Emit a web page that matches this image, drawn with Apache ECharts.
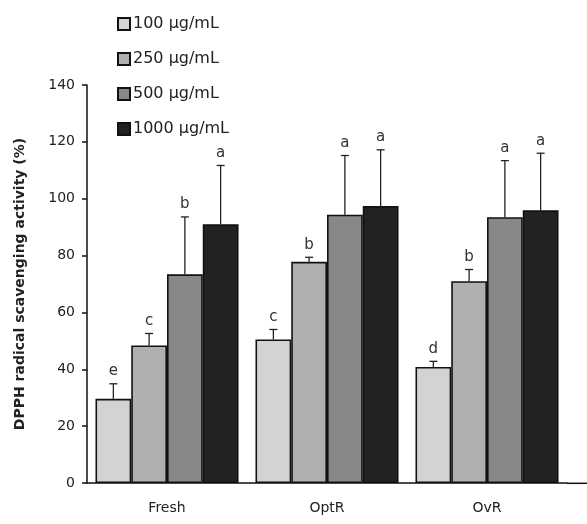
<!DOCTYPE html>
<html><head><meta charset="utf-8">
<script src="https://cdn.jsdelivr.net/npm/echarts@6/dist/echarts.min.js"></script>
<style>html,body{margin:0;padding:0;background:#fff}#c{width:587px;height:524px}</style>
</head><body><div id="c"></div>
<script>
const categories = ['Fresh', 'OptR', 'OvR'];
const seriesNames = ['100 µg/mL', '250 µg/mL', '500 µg/mL', '1000 µg/mL'];
const means100 = [29.6, 50.5, 40.8];
const means250 = [48.4, 77.8, 71.0];
const means500 = [73.4, 94.4, 93.5];
const means1000 = [91.0, 97.4, 95.9];
const sd100 = [5.3, 3.5, 2.0];
const sd250 = [4.2, 1.6, 4.1];
const sd500 = [20.2, 20.8, 19.9];
const sd1000 = [20.7, 19.8, 20.1];
const letters100 = ['e', 'c', 'd'];
const letters250 = ['c', 'b', 'b'];
const letters500 = ['b', 'a', 'a'];
const letters1000 = ['a', 'a', 'a'];
const yTicks = [0, 20, 40, 60, 80, 100, 120, 140];

const means = [means100, means250, means500, means1000];
const sds = [sd100, sd250, sd500, sd1000];
const letters = [letters100, letters250, letters500, letters1000];
const colors = ['#d3d3d3', '#b0b0b0', '#888888', '#222222'];
const catGap = 0.106;

const chart = echarts.init(document.getElementById('c'));
const series = [];
means.forEach((m, i) => {
  series.push({
    name: seriesNames[i], type: 'bar', data: m, barGap: '0%', barCategoryGap: (catGap*100)+'%',
    itemStyle: { color: colors[i], borderColor: '#111', borderWidth: 1.6 },
    z: 2
  });
});
means.forEach((m, i) => {
  series.push({
    type: 'custom', z: 5, silent: true,
    data: m.map((v, j) => [j, v, sds[i][j]]),
    renderItem: function (params, api) {
      const cat = api.value(0), v = api.value(1), sd = api.value(2), lt = letters[i][params.dataIndex];
      const bandW = api.size([1, 0])[0];
      const bw = bandW * (1 - catGap) / 4;
      const base = api.coord([cat, v]);
      const top = api.coord([cat, v + sd]);
      const x = base[0] + bw * (i - 1.5);
      const cap = 4;
      return { type: 'group', children: [
        { type: 'line', shape: { x1: x, y1: base[1], x2: x, y2: top[1] }, style: { stroke: '#222', lineWidth: 1.3 } },
        { type: 'line', shape: { x1: x - cap, y1: top[1], x2: x + cap, y2: top[1] }, style: { stroke: '#222', lineWidth: 1.3 } },
        { type: 'text', x: x, y: top[1] - 5, style: { text: lt, align: 'center', verticalAlign: 'bottom', fontSize: 15, fontFamily: 'DejaVu Sans', fill: '#333' } }
      ]};
    }
  });
});

chart.setOption({
  animation: false,
  backgroundColor: '#fff',
  legend: {
    data: seriesNames, orient: 'vertical', left: 112, top: 11, itemGap: 19,
    itemWidth: 12, itemHeight: 12, icon: 'rect', selectedMode: false,
    textStyle: { fontSize: 16, fontFamily: 'DejaVu Sans', color: '#222', padding: [0, 0, 0, -2] }
  },
  grid: { left: 87, right: 20, top: 85, bottom: 41 },
  xAxis: {
    type: 'category', data: categories,
    axisLine: { lineStyle: { color: '#111', width: 1.5 } },
    axisTick: { show: false },
    axisLabel: { fontSize: 14, fontFamily: 'DejaVu Sans', color: '#222', margin: 18 }
  },
  yAxis: {
    type: 'value', min: 0, max: 140, interval: 20,
    name: 'DPPH radical scavenging activity (%)', nameLocation: 'middle', nameGap: 60,
    nameTextStyle: { fontSize: 14, fontWeight: 'bold', fontFamily: 'DejaVu Sans', color: '#222' },
    axisLine: { show: true, lineStyle: { color: '#111', width: 1.5 } },
    axisTick: { show: true, length: 5, lineStyle: { color: '#111', width: 1.5 } },
    axisLabel: { fontSize: 14, fontFamily: 'DejaVu Sans', color: '#222', margin: 12,
      formatter: v => yTicks.includes(v) ? String(v) : '' },
    splitLine: { show: false }
  },
  graphic: [{ type: 'line', shape: { x1: 567, y1: 483.3, x2: 587, y2: 483.3 }, style: { stroke: '#111', lineWidth: 1.5 } }],
  series: series
});
</script></body></html>
